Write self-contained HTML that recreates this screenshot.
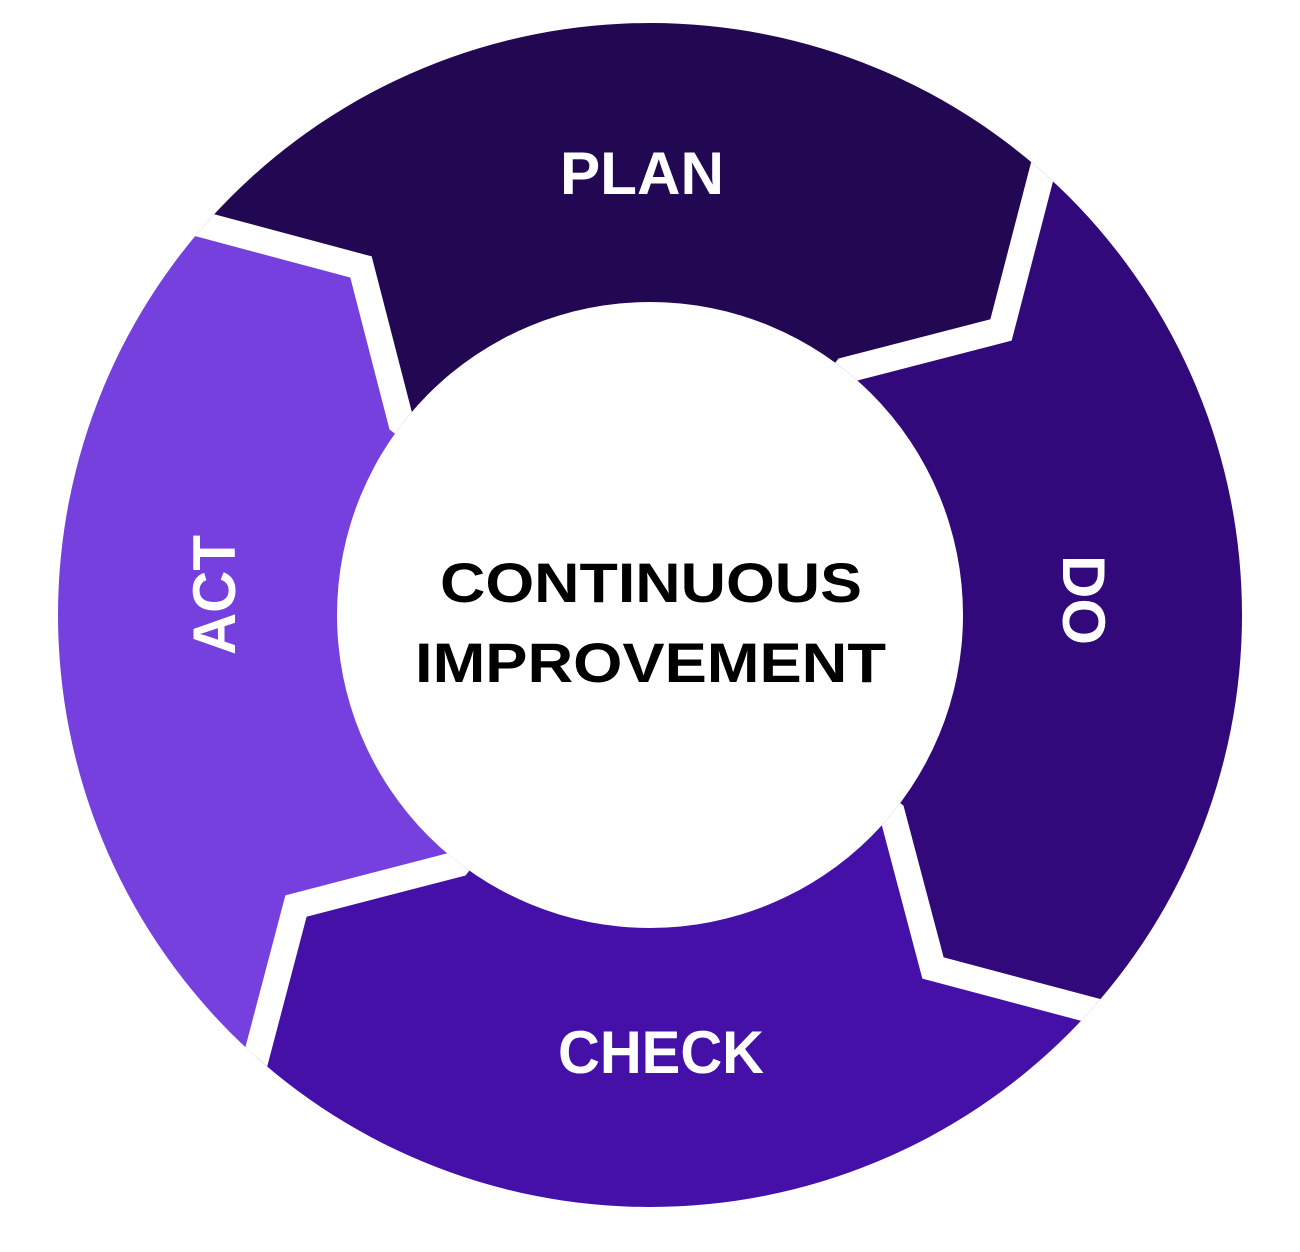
<!DOCTYPE html>
<html><head><meta charset="utf-8"><style>html,body{margin:0;padding:0;background:#fff;width:1300px;height:1252px;overflow:hidden}svg{display:block}</style></head>
<body>
<svg width="1300" height="1252" viewBox="0 0 1300 1252" xmlns="http://www.w3.org/2000/svg">
<defs>
<clipPath id="ring"><path clip-rule="evenodd" d="M58,615 a592,592 0 1,0 1184,0 a592,592 0 1,0 -1184,0 Z M337,615 a313,313 0 1,0 626,0 a313,313 0 1,0 -626,0 Z"/></clipPath>
</defs>
<g clip-path="url(#ring)">
<polygon fill="#220852" points="650,615 401,422 361,267 47,183 -200,-200 1140,-200 1083,14 1001,330 846,370"/>
<polygon fill="#32097a" points="650,615 846,370 1001,330 1083,14 1140,-200 1500,-200 1500,1100 1249,1052 933,968 892,813"/>
<polygon fill="#4410a8" points="650,615 892,813 933,968 1249,1052 1500,1100 1500,1500 200,1500 216,1210 296,906 458,864"/>
<polygon fill="#7540de" points="650,615 458,864 296,906 216,1210 200,1500 -200,1500 -200,-200 47,183 361,267 401,422"/>
<g fill="none" stroke="#fff" stroke-width="26" stroke-linejoin="miter">
<polyline points="1083,14 1001,330 846,370 650,615"/>
<polyline points="1249,1052 933,968 892,813 650,615"/>
<polyline points="216,1210 296,906 458,864 650,615"/>
<polyline points="47,183 361,267 401,422 650,615"/>
</g>
</g>
<g font-family="'Liberation Sans', 'DejaVu Sans', sans-serif" font-weight="bold" fill="#fff" font-size="60">
<text x="560" y="194" textLength="164" lengthAdjust="spacingAndGlyphs">PLAN</text>
<text x="558" y="1073" textLength="206" lengthAdjust="spacingAndGlyphs">CHECK</text>
<text transform="translate(1063,555) rotate(90)" x="0" y="0" textLength="90" lengthAdjust="spacingAndGlyphs">DO</text>
<text transform="translate(235,655) rotate(-90)" x="0" y="0" textLength="120" lengthAdjust="spacingAndGlyphs">ACT</text>
</g>
<g font-family="'Liberation Sans', 'DejaVu Sans', sans-serif" font-weight="bold" fill="#000" font-size="56">
<text x="440" y="602" textLength="422" lengthAdjust="spacingAndGlyphs">CONTINUOUS</text>
<text x="415" y="682" textLength="471" lengthAdjust="spacingAndGlyphs">IMPROVEMENT</text>
</g>
</svg>
</body></html>
